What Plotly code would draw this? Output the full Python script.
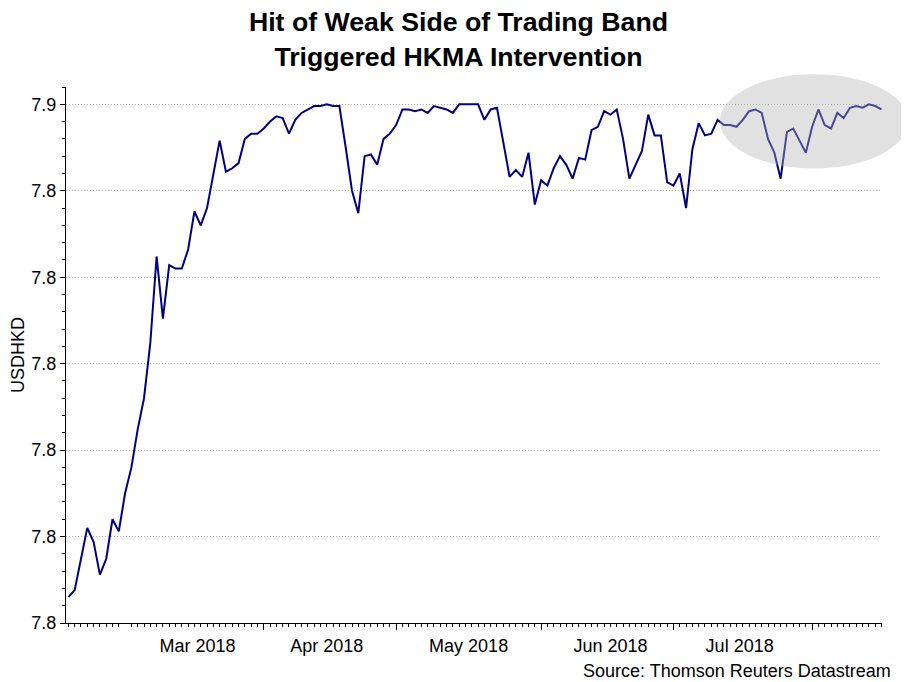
import pandas as pd
import plotly.graph_objects as go

# USDHKD daily closes (business days from 16 Feb 2018)
usdhkd = [
    7.8215, 7.8219, 7.8237, 7.8255, 7.8247, 7.8228, 7.8237, 7.8260, 7.8253, 7.8275,
    7.8290, 7.8312, 7.8330, 7.8362, 7.8412, 7.8376, 7.8407, 7.8405, 7.8405, 7.8416,
    7.8438, 7.8430, 7.8440, 7.8460, 7.8479, 7.8461, 7.8463, 7.8466, 7.8480, 7.8483,
    7.8483, 7.8486, 7.8490, 7.8493, 7.8492, 7.8483, 7.8491, 7.8495, 7.8497, 7.8499,
    7.8499, 7.8500, 7.8499, 7.8499, 7.8475, 7.8450, 7.8437, 7.8470, 7.8471, 7.8465,
    7.8480, 7.8483, 7.8488, 7.8497, 7.8497, 7.8496, 7.8497, 7.8495, 7.8499, 7.8498,
    7.8497, 7.8495, 7.8500, 7.8500, 7.8500, 7.8500, 7.8491, 7.8497, 7.8498, 7.8478,
    7.8458, 7.8462, 7.8458, 7.8472, 7.8442, 7.8456, 7.8453, 7.8463, 7.8470, 7.8465,
    7.8457, 7.8469, 7.8468, 7.8485, 7.8487, 7.8496, 7.8494, 7.8497, 7.8480, 7.8457,
    7.8465, 7.8473, 7.8494, 7.8482, 7.8482, 7.8455, 7.8453, 7.8460, 7.8440, 7.8474,
    7.8489, 7.8482, 7.8483, 7.8491, 7.8488, 7.8488, 7.8487, 7.8491, 7.8496, 7.8497,
    7.8495, 7.8480, 7.8472, 7.8457, 7.8484, 7.8486, 7.8479, 7.8472, 7.8487, 7.8497,
    7.8488, 7.8486, 7.8495, 7.8492, 7.8498, 7.8499, 7.8498, 7.8500, 7.8499, 7.8497,
]
dates = pd.bdate_range("2018-02-16", periods=len(usdhkd))

y_ticks = [7.82, 7.825, 7.83, 7.835, 7.84, 7.845, 7.85]
y_tick_labels = ["7.8", "7.8", "7.8", "7.8", "7.8", "7.8", "7.9"]

font = "Liberation Sans, Arial, sans-serif"

fig = go.Figure()
fig.add_trace(go.Scatter(
    x=dates,
    y=usdhkd,
    mode="lines",
    line=dict(color="#000080", width=2),
))

# grey highlight over the latest weeks
fig.add_shape(
    type="circle", xref="paper", yref="paper",
    x0=0.8015, x1=1.032, y0=0.848, y1=1.024,
    fillcolor="rgba(180,180,180,0.4)", line=dict(width=0),
    layer="above",
)

fig.add_annotation(
    text="Source: Thomson Reuters Datastream",
    xref="paper", yref="paper", x=1.0135, y=-0.089,
    xanchor="right", yanchor="middle", showarrow=False,
    font=dict(size=18, color="black", family=font),
)

# the page body adds an 8px offset, so the figure is 8px smaller than the window
fig.update_layout(
    width=901,
    height=674,
    title=dict(
        text="<b>Hit of Weak Side of Trading Band<br>Triggered HKMA Intervention</b>",
        x=0.5, xanchor="center", y=0.966, yanchor="top",
        font=dict(size=26.7, color="black", family=font),
    ),
    font=dict(family=font, size=18, color="black"),
    plot_bgcolor="white",
    paper_bgcolor="white",
    showlegend=False,
    margin=dict(l=58, r=27, t=79, b=59),
    xaxis=dict(
        type="date",
        range=["2018-02-15 15:00", "2018-08-16 02:00"],
        rangebreaks=[dict(bounds=["sat", "mon"])],
        dtick="M1",
        tick0="2018-03-01",
        tickformat="%b %Y",
        ticklabelmode="period",
        showgrid=False,
        showline=True, linecolor="black", linewidth=1,
        ticks="outside", ticklen=6, tickcolor="black",
        minor=dict(dtick=86400000, ticks="outside", ticklen=3, tickcolor="black", showgrid=False),
        tickfont=dict(size=18),
        zeroline=False,
        automargin=False,
    ),
    yaxis=dict(
        range=[7.82, 7.851],
        tickvals=y_ticks,
        ticktext=y_tick_labels,
        showgrid=True, gridcolor="#b4b4b4", griddash="1px,2px", gridwidth=1,
        showline=True, linecolor="black", linewidth=1,
        ticks="outside", ticklen=5, tickcolor="black",
        minor=dict(dtick=0.001, tick0=7.82, ticks="outside", ticklen=3, tickcolor="black", showgrid=False),
        tickfont=dict(size=18),
        title=dict(text="USDHKD", font=dict(size=18), standoff=4),
        zeroline=False,
        automargin=False,
    ),
)

fig.write_html("out.html")
